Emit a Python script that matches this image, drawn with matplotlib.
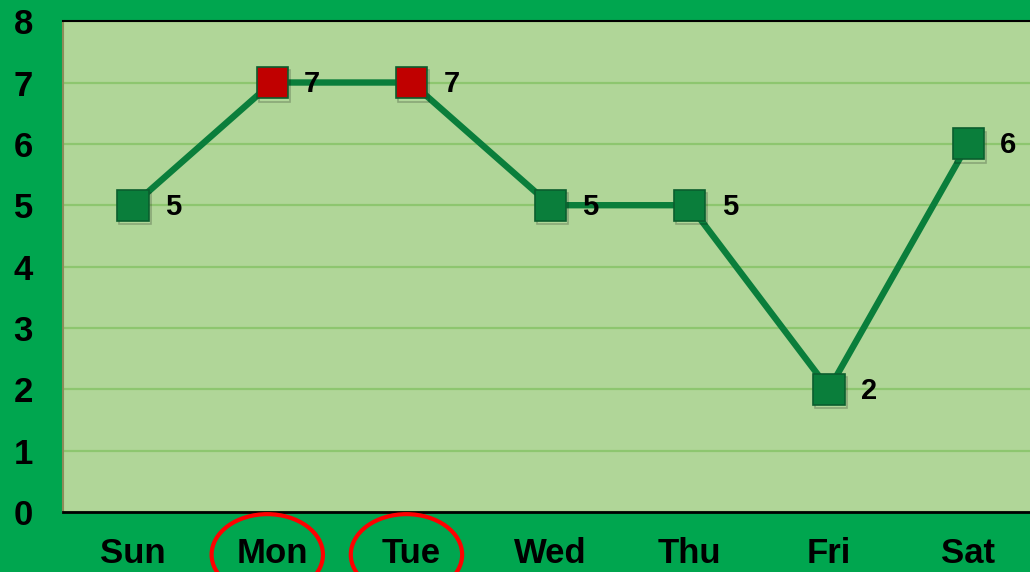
import matplotlib
matplotlib.use("Agg")
import matplotlib.pyplot as plt
import matplotlib.patheffects as pe
import matplotlib.transforms as mtransforms
from matplotlib.patches import Ellipse

# data
days = ["Sun", "Mon", "Tue", "Wed", "Thu", "Fri", "Sat"]
values = [5, 7, 7, 5, 5, 2, 6]
highlight = ["Mon", "Tue"]

bg = "#00A64F"
plot_bg = "#B0D698"
grid_c = "#8DC66F"
line_c = "#0A7E3B"
red_c = "#C00000"

plt.rcParams["font.family"] = ["Liberation Sans", "DejaVu Sans"]
plt.rcParams["font.weight"] = "bold"

fig = plt.figure(figsize=(10.3, 5.72), dpi=100, facecolor=bg)
ax = fig.add_axes([0.0615, 0.105, 0.946, 0.858])
ax.set_facecolor(plot_bg)

x = list(range(len(days)))
ax.plot(x, values, color=line_c, lw=4.6, zorder=3)
for xi, d, v in zip(x, days, values):
    fc = red_c if d in highlight else line_c
    ax.plot(xi, v, marker="s", ms=22.5, mfc=fc, mec="#0B5E2E", mew=1.2, zorder=4,
            path_effects=[pe.SimpleLineShadow(offset=(1.5, -2.5), alpha=0.22), pe.Normal()])
    ax.annotate(str(v), (xi, v), xytext=(23, -1), textcoords="offset points",
                ha="left", va="center", fontsize=21, fontweight="bold", zorder=5)

ax.set_xlim(-0.5, len(days) - 0.5)
ax.set_ylim(0, 8)
ax.set_yticks(range(0, 9))
ax.set_xticks(x)
ax.set_xticklabels(days)
ax.tick_params(axis="both", length=0, labelsize=25)
ax.tick_params(axis="x", pad=18)
ax.tick_params(axis="y", pad=22)
for lbl in ax.get_xticklabels() + ax.get_yticklabels():
    lbl.set_fontweight("bold")

ax.yaxis.grid(True, color=grid_c, lw=1.6)
ax.set_axisbelow(True)
ax.spines["right"].set_visible(False)
ax.spines["top"].set_color("black")
ax.spines["top"].set_linewidth(1.5)
ax.spines["bottom"].set_color("black")
ax.spines["bottom"].set_linewidth(2)
ax.spines["left"].set_color("#8C8C5A")
ax.spines["left"].set_linewidth(1.5)

# red circles around highlighted labels
trans = mtransforms.blended_transform_factory(ax.transData, ax.transAxes)
for d in highlight:
    i = days.index(d)
    e = Ellipse((i - 0.035, -0.087), width=0.80, height=0.165, transform=trans,
                fill=False, edgecolor="#FF0000", lw=3, clip_on=False, zorder=6)
    ax.add_patch(e)

fig.savefig("out.png", dpi=100, facecolor=bg)
